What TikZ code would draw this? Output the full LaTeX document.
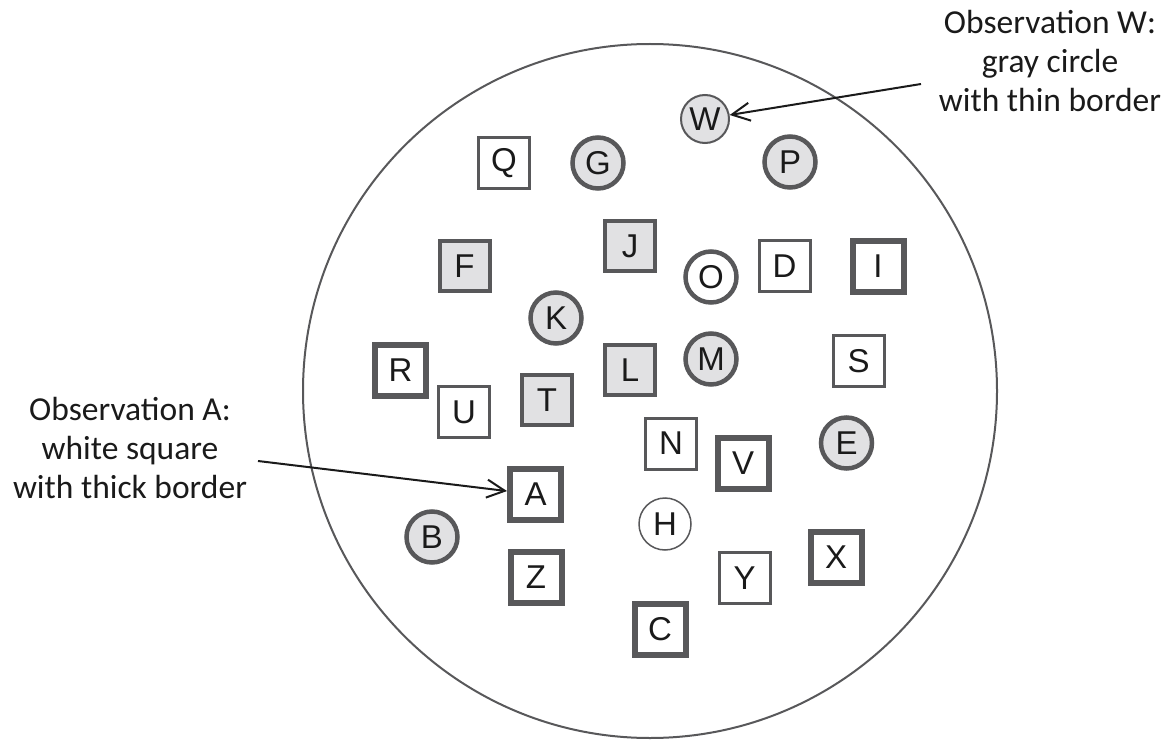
\documentclass[tikz,border=0pt]{standalone}
\usepackage{fontspec}
\setmainfont{Liberation Sans}
\newfontfamily\labelfont{Carlito}
\usetikzlibrary{arrows.meta}
\definecolor{bdr}{HTML}{58585A}
\definecolor{gfill}{HTML}{E1E1E3}
\definecolor{ink}{HTML}{1A1A1A}
\tikzset{
  obs/.style={inner sep=0pt, text=ink, font=\fontsize{33}{33}\selectfont, draw=bdr},
  sqthin/.style={obs, rectangle, fill=white, line width=3pt, minimum size=51pt},
  sqthick/.style={obs, rectangle, fill=white, line width=6pt, minimum size=51pt},
  sqgray/.style={obs, rectangle, fill=gfill, line width=4pt, minimum size=50pt},
  cgthick/.style={obs, circle, fill=gfill, line width=4.5pt, minimum size=51pt},
  cwthick/.style={obs, circle, fill=white, line width=4.5pt, minimum size=51pt},
  cgthin/.style={obs, circle, fill=gfill, line width=2pt, minimum size=48pt},
  cwthin/.style={obs, circle, fill=white, line width=1.5pt, minimum size=52pt},
  callout/.style={align=center, text=ink, font=\labelfont\fontsize{33.5}{39}\selectfont, inner sep=0pt},
  pointer/.style={line width=2pt, draw=ink, -{Straight Barb[length=18pt,width=18pt,line width=2pt]}},
}
\begin{document}
\begin{tikzpicture}[x=1pt,y=-1pt]
\useasboundingbox (0,0) rectangle (1175,746);
\draw[line width=2pt, draw=bdr] (650,391) circle [radius=347pt];
% nodes
\node[sqthin]  (Q) at (504,163) {Q};
\node[cgthick] (G) at (598,163) {G};
\node[cgthin]  (W) at (705,119) {W};
\node[cgthick] (P) at (790,162) {P};
\node[sqgray]  (F) at (464.5,266) {F};
\node[sqgray]  (J) at (630,246) {J};
\node[cwthick] (O) at (711,277) {O};
\node[sqthin]  (D) at (784.5,266) {D};
\node[sqthick] (I) at (878,266.5) {I};
\node[cgthick] (K) at (556,318) {K};
\node[sqthick] (R) at (400.5,370) {R};
\node[sqgray]  (L) at (630,370) {L};
\node[cgthick] (M) at (711,359) {M};
\node[sqthin]  (S) at (858.5,361) {S};
\node[sqthin]  (U) at (464,412) {U};
\node[sqgray]  (T) at (547,400) {T};
\node[sqthin]  (N) at (671,443.5) {N};
\node[sqthick] (V) at (743,463.5) {V};
\node[cgthick] (E) at (846.5,443) {E};
\node[sqthick] (A) at (535.5,494.5) {A};
\node[cwthin]  (H) at (665,524) {H};
\node[cgthick] (B) at (432,537) {B};
\node[sqthick] (Z) at (536,577) {Z};
\node[sqthin]  (Y) at (744.5,578) {Y};
\node[sqthick] (X) at (836,557) {X};
\node[sqthick] (C) at (660,629) {C};
% callouts
\node[callout] (labW) at (1050,61) {Observation W:\\gray circle\\with thin border};
\node[callout] (labA) at (130,448) {Observation A:\\white square\\with thick border};
\coordinate (wstart) at (921,84);
\coordinate (astart) at (258,461);
\draw[pointer] (wstart) -- (W);
\draw[pointer] (astart) -- (A);
\end{tikzpicture}
\end{document}
